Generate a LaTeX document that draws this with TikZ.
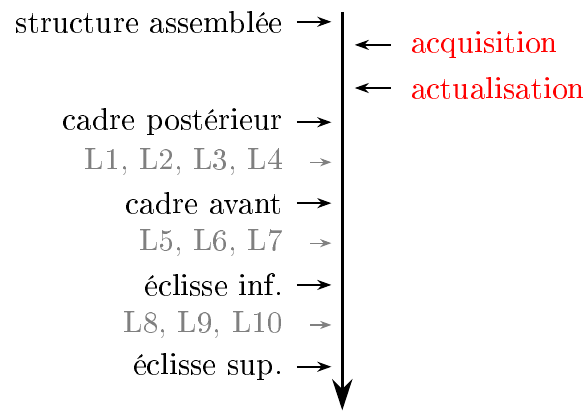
\documentclass[tikz,border=0pt]{standalone}
\usepackage[T1]{fontenc}
\usepackage{xcolor}
\usetikzlibrary{arrows.meta,positioning}

\tikzset{
  etape/.style={anchor=east},
  sousetape/.style={anchor=east,text=gray},
  action/.style={anchor=west,text=red},
  fleche/.style={semithick,-{Stealth[length=4.5pt,width=3.2pt]},shorten <=1pt,shorten >=3.5pt},
  flechegrise/.style={gray,-{Stealth[length=3.6pt,width=2.6pt]},shorten <=5.2pt,shorten >=3.5pt},
  flecheact/.style={semithick,-{Stealth[length=4.5pt,width=3.2pt]},shorten <=3pt,shorten >=4pt},
}

\begin{document}
\begin{tikzpicture}
  \useasboundingbox (-3.85,0.135) rectangle (2.73,-4.545);
  % axe du temps
  \coordinate (haut) at (0,0);
  \coordinate (bas) at (0,-4.48);
  \draw[thick,-{Stealth[length=10pt,width=6.5pt]}] (haut) -- (bas);
  % etapes
  \node[etape] (sa) at (-0.545,-0.11) {structure assemblée};
  \node[etape] (cp) at (-0.545,-1.24) {cadre postérieur};
  \node[sousetape] (l1) at (-0.545,-1.69) {L1, L2, L3, L4};
  \node[etape] (ca) at (-0.545,-2.15) {cadre avant};
  \node[sousetape] (l5) at (-0.545,-2.60) {L5, L6, L7};
  \node[etape] (ei) at (-0.545,-3.07) {éclisse inf.};
  \node[sousetape] (l8) at (-0.545,-3.52) {L8, L9, L10};
  \node[etape] (es) at (-0.545,-3.99) {éclisse sup.};
  \foreach \n in {sa,cp,ca,ei,es}
    \draw[fleche] (\n.east) -- (\n.east -| haut);
  \foreach \n in {l1,l5,l8}
    \draw[flechegrise] (\n.east) -- (\n.east -| haut);
  % actions
  \node[action] (acq) at (0.652,-0.37) {acquisition};
  \node[action] (act) at (0.652,-0.855) {actualisation};
  \foreach \n in {acq,act}
    \draw[flecheact] (\n.west) -- (\n.west -| haut);
\end{tikzpicture}
\end{document}
